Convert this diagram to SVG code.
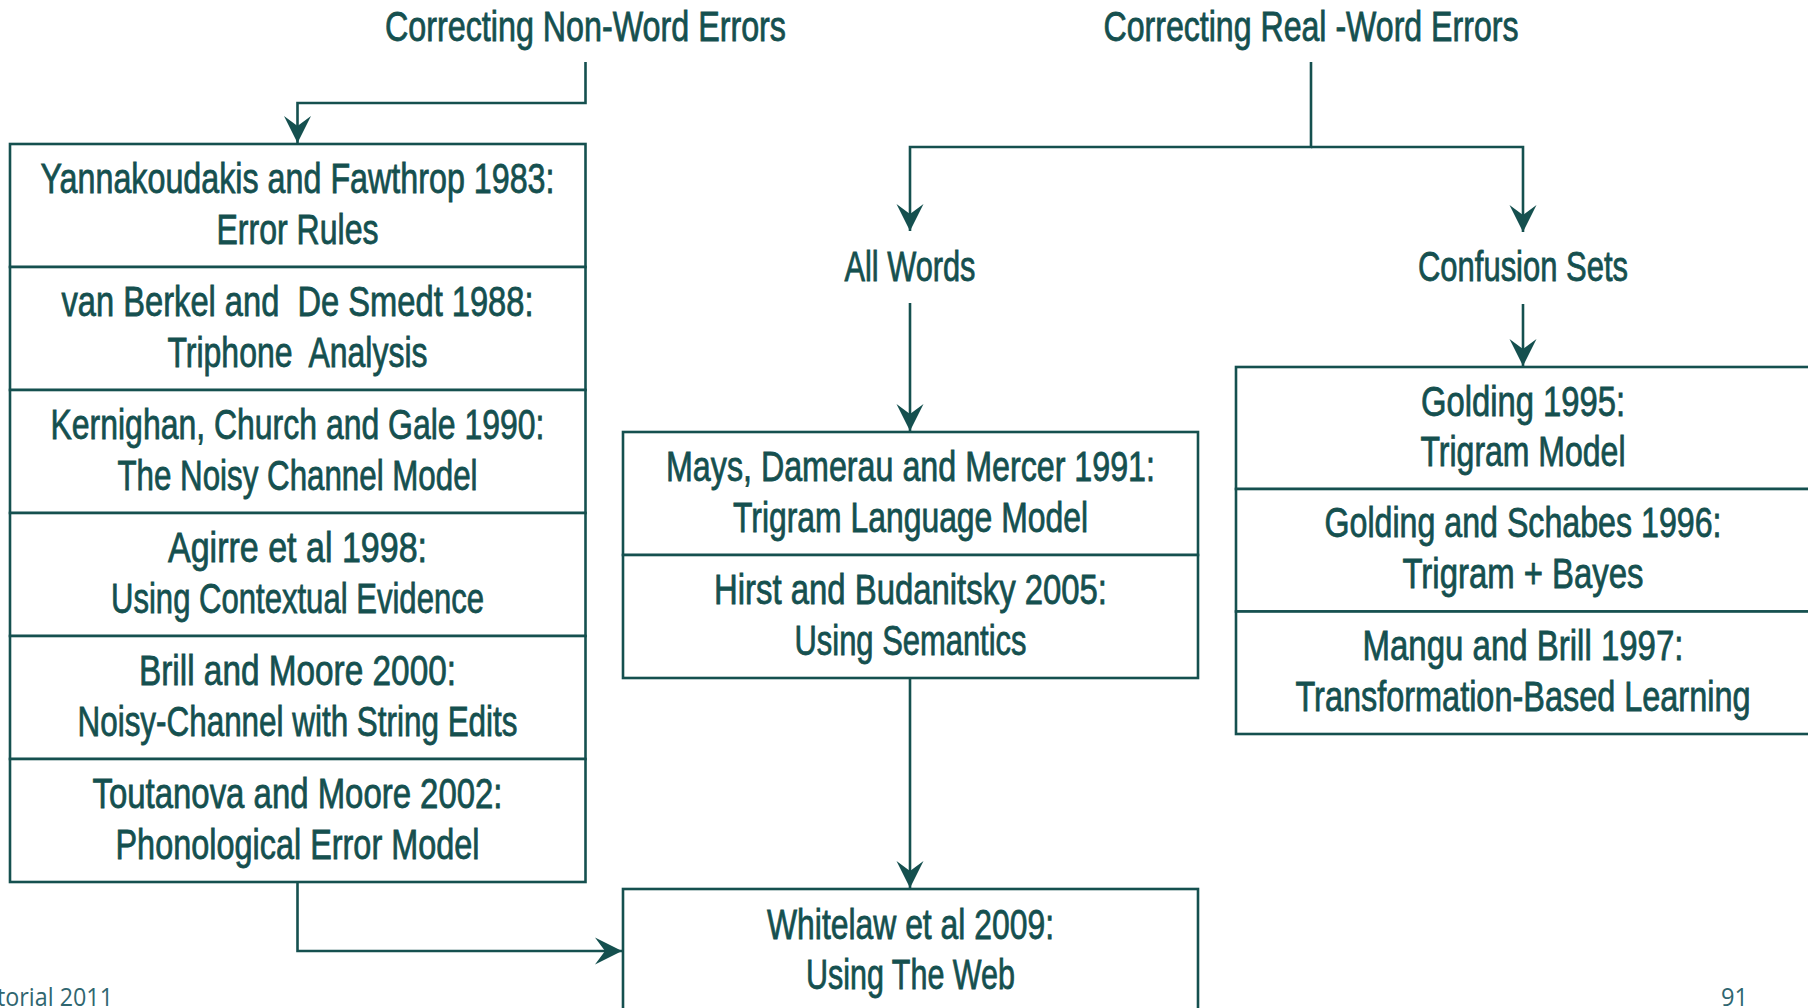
<svg xmlns="http://www.w3.org/2000/svg" width="1808" height="1008" viewBox="0 0 1808 1008">
<style>
.box{fill:#ffffff;stroke:#15504f;stroke-width:2.6}
.t{font-family:"Liberation Sans Narrow","Liberation Sans",Arial,sans-serif;font-size:42px;fill:#15504f;stroke:#15504f;stroke-width:0.8;text-anchor:middle;white-space:pre}
.c{fill:none;stroke:#15504f;stroke-width:2.6}
.f{font-family:"Open Sans","Liberation Sans",sans-serif;font-size:26px;fill:#2f6670}
</style>
<defs>
<marker id="ah" markerUnits="userSpaceOnUse" viewBox="-28 -15 30 30" markerWidth="30" markerHeight="30" refX="0" refY="0" orient="auto">
<path d="M0,0 L-27,-13.5 L-17,0 L-27,13.5 Z" fill="#15504f"/>
</marker>
</defs>
<rect width="1808" height="1008" fill="#ffffff"/>

<g id="connectors">
<path class="c" d="M585.5,62 V103 H297.5 V143" marker-end="url(#ah)"/>
<path class="c" d="M1311,62 V147 H910 V231" marker-end="url(#ah)"/>
<path class="c" d="M1311,147 H1523 V232" marker-end="url(#ah)"/>
<path class="c" d="M910,303 V431" marker-end="url(#ah)"/>
<path class="c" d="M1523,304 V366" marker-end="url(#ah)"/>
<path class="c" d="M910,678 V888" marker-end="url(#ah)"/>
<path class="c" d="M297.5,882 V951 H622" marker-end="url(#ah)"/>
</g>

<g id="hdr-nonword"><text class="t" x="585.5" y="41" textLength="401" lengthAdjust="spacingAndGlyphs">Correcting Non-Word Errors</text></g>
<g id="hdr-realword"><text class="t" x="1311" y="41" textLength="415" lengthAdjust="spacingAndGlyphs">Correcting Real -Word Errors</text></g>
<g id="all-words"><text class="t" x="910" y="281" textLength="131" lengthAdjust="spacingAndGlyphs">All Words</text></g>
<g id="confusion-sets"><text class="t" x="1523" y="281" textLength="210" lengthAdjust="spacingAndGlyphs">Confusion Sets</text></g>

<g id="yannakoudakis">
<rect class="box" x="10" y="144" width="575.5" height="123"/>
<text class="t" x="297.5" y="193" textLength="514" lengthAdjust="spacingAndGlyphs">Yannakoudakis and Fawthrop 1983:</text>
<text class="t" x="297.5" y="243.5" textLength="162" lengthAdjust="spacingAndGlyphs">Error Rules</text>
</g>
<g id="vanberkel">
<rect class="box" x="10" y="267" width="575.5" height="123"/>
<text class="t" x="297.5" y="316" textLength="472" lengthAdjust="spacingAndGlyphs">van Berkel and  De Smedt 1988:</text>
<text class="t" x="297.5" y="366.5" textLength="260" lengthAdjust="spacingAndGlyphs">Triphone  Analysis</text>
</g>
<g id="kernighan">
<rect class="box" x="10" y="390" width="575.5" height="123"/>
<text class="t" x="297.5" y="439" textLength="494" lengthAdjust="spacingAndGlyphs">Kernighan, Church and Gale 1990:</text>
<text class="t" x="297.5" y="489.5" textLength="360" lengthAdjust="spacingAndGlyphs">The Noisy Channel Model</text>
</g>
<g id="agirre">
<rect class="box" x="10" y="513" width="575.5" height="123"/>
<text class="t" x="297.5" y="562" textLength="259" lengthAdjust="spacingAndGlyphs">Agirre et al 1998:</text>
<text class="t" x="297.5" y="612.5" textLength="373" lengthAdjust="spacingAndGlyphs">Using Contextual Evidence</text>
</g>
<g id="brill-moore">
<rect class="box" x="10" y="636" width="575.5" height="123"/>
<text class="t" x="297.5" y="685" textLength="317" lengthAdjust="spacingAndGlyphs">Brill and Moore 2000:</text>
<text class="t" x="297.5" y="735.5" textLength="440" lengthAdjust="spacingAndGlyphs">Noisy-Channel with String Edits</text>
</g>
<g id="toutanova">
<rect class="box" x="10" y="759" width="575.5" height="123"/>
<text class="t" x="297.5" y="808" textLength="410" lengthAdjust="spacingAndGlyphs">Toutanova and Moore 2002:</text>
<text class="t" x="297.5" y="858.5" textLength="364" lengthAdjust="spacingAndGlyphs">Phonological Error Model</text>
</g>

<g id="mays">
<rect class="box" x="623" y="432" width="575" height="123"/>
<text class="t" x="910.5" y="481" textLength="489" lengthAdjust="spacingAndGlyphs">Mays, Damerau and Mercer 1991:</text>
<text class="t" x="910.5" y="531.5" textLength="355" lengthAdjust="spacingAndGlyphs">Trigram Language Model</text>
</g>
<g id="hirst">
<rect class="box" x="623" y="555" width="575" height="123"/>
<text class="t" x="910.5" y="604" textLength="393" lengthAdjust="spacingAndGlyphs">Hirst and Budanitsky 2005:</text>
<text class="t" x="910.5" y="654.5" textLength="232" lengthAdjust="spacingAndGlyphs">Using Semantics</text>
</g>
<g id="whitelaw">
<rect class="box" x="623" y="889" width="575" height="140"/>
<text class="t" x="910.5" y="939" textLength="287" lengthAdjust="spacingAndGlyphs">Whitelaw et al 2009:</text>
<text class="t" x="910.5" y="989" textLength="209" lengthAdjust="spacingAndGlyphs">Using The Web</text>
</g>

<g id="golding">
<rect class="box" x="1236" y="367" width="577" height="122"/>
<text class="t" x="1523" y="415.5" textLength="204" lengthAdjust="spacingAndGlyphs">Golding 1995:</text>
<text class="t" x="1523" y="466" textLength="205" lengthAdjust="spacingAndGlyphs">Trigram Model</text>
</g>
<g id="golding-schabes">
<rect class="box" x="1236" y="489" width="577" height="122.5"/>
<text class="t" x="1523" y="537" textLength="397" lengthAdjust="spacingAndGlyphs">Golding and Schabes 1996:</text>
<text class="t" x="1523" y="587.5" textLength="241" lengthAdjust="spacingAndGlyphs">Trigram + Bayes</text>
</g>
<g id="mangu-brill">
<rect class="box" x="1236" y="611.5" width="577" height="122.5"/>
<text class="t" x="1523" y="659.5" textLength="321" lengthAdjust="spacingAndGlyphs">Mangu and Brill 1997:</text>
<text class="t" x="1523" y="710.5" textLength="455" lengthAdjust="spacingAndGlyphs">Transformation-Based Learning</text>
</g>

<g id="footer">
<text class="f" x="-3" y="1006" textLength="116" lengthAdjust="spacingAndGlyphs">torial 2011</text>
<text class="f" x="1721" y="1006" textLength="27" lengthAdjust="spacingAndGlyphs">91</text>
</g>
</svg>
